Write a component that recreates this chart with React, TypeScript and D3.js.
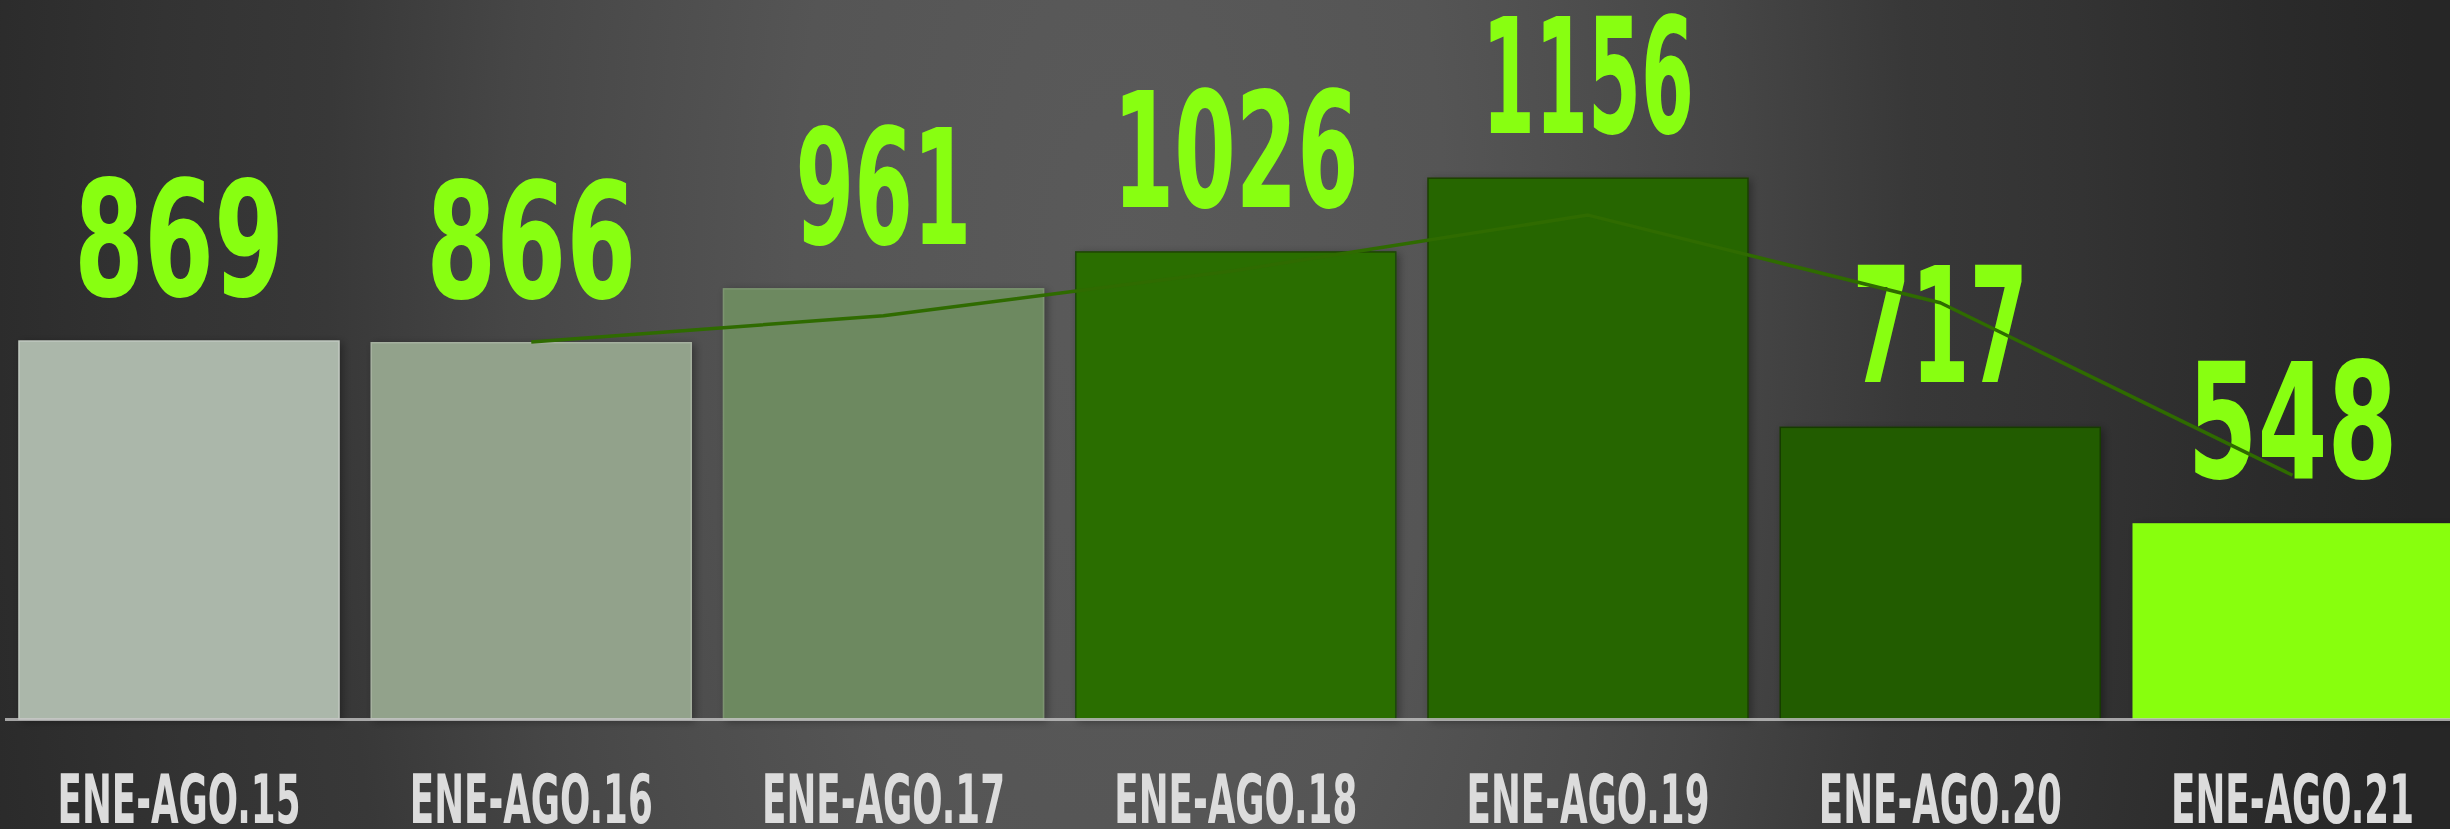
import React, { useLayoutEffect, useRef, useState } from 'react';
import * as d3 from 'd3';

const categories = ['ENE-AGO.15', 'ENE-AGO.16', 'ENE-AGO.17', 'ENE-AGO.18', 'ENE-AGO.19', 'ENE-AGO.20', 'ENE-AGO.21'];
const values = [869, 866, 961, 1026, 1156, 717, 548];
const barColors = ['#abb7aa', '#92a28b', '#6d8960', '#2c6e00', '#276600', '#225c00', '#88ff10'];
const barStrokes = ['#c2cac1', '#a6b19f', '#7c9470', '#1e4608', '#1b4006', '#193a05', 'none'];

const W = 2450;
const H = 829;
const BASE = 719;

// 2-period moving average trendline (as drawn by the spreadsheet)
const trend = values.map((v, i) => (i === 0 ? null : (values[i - 1] + v) / 2));

const charWidth = (s: string) => s.split('').reduce((acc, ch) => acc + (ch === '1' ? 36 : 70), 0);

const font = "'Liberation Sans Narrow', 'Arial Narrow', 'DejaVu Sans Condensed', sans-serif";

function FitText(props: { x: number; y: number; width: number; size: number; fill: string; children: string }) {
  const ref = useRef<SVGTextElement>(null);
  const [sx, setSx] = useState(1);
  useLayoutEffect(() => {
    if (ref.current) {
      const n = ref.current.getComputedTextLength();
      if (n > 0) setSx(props.width / n);
    }
  }, [props.width, props.children]);
  return (
    <text ref={ref} transform={`translate(${props.x},${props.y}) scale(${sx},1)`}
      textAnchor="middle" fontFamily={font} fontWeight="bold" fontSize={props.size}
      fill={props.fill}>{props.children}</text>
  );
}

export default function App() {
  const x = d3.scaleBand<string>().domain(categories).range([19, 2452.5]).paddingInner(0.0916).paddingOuter(0);
  const y = d3.scaleLinear().domain([203, 1470]).range([BASE, 0]);
  const bw = x.bandwidth();

  const pts: [number, number][] = [];
  trend.forEach((t, i) => {
    if (t !== null) pts.push([(x(categories[i]) as number) + bw / 2, y(t)]);
  });
  const linePath = d3.line()(pts) || '';

  return (
    <>
      <style>{`html,body{margin:0;padding:0;overflow:hidden;background:#2a2a2a}`}</style>
      <svg width={W} height={H} style={{ display: 'block' }}>
        <defs>
          <radialGradient id="bg" gradientUnits="userSpaceOnUse" cx={1120} cy={260} r={1300}
            gradientTransform="translate(1120 260) scale(1 2.2) translate(-1120 -260)">
            <stop offset="0" stopColor="#5a5a5a" />
            <stop offset="0.25" stopColor="#555555" />
            <stop offset="0.47" stopColor="#464646" />
            <stop offset="0.61" stopColor="#383838" />
            <stop offset="0.74" stopColor="#333333" />
            <stop offset="0.88" stopColor="#2b2b2b" />
            <stop offset="1" stopColor="#262626" />
          </radialGradient>
          <filter id="shadow" x="-10%" y="-10%" width="120%" height="120%">
            <feDropShadow dx="3" dy="2" stdDeviation="4" floodColor="#000" floodOpacity="0.35" />
          </filter>
        </defs>
        <rect x={0} y={0} width={W} height={H} fill="url(#bg)" />
        <g filter="url(#shadow)">
          {categories.map((c, i) => (
            <rect key={c} x={x(c)} y={y(values[i])} width={bw} height={BASE - y(values[i])}
              fill={barColors[i]} stroke={barStrokes[i]} strokeWidth={1.5} />
          ))}
        </g>
        <line x1={5} x2={W} y1={BASE + 0.5} y2={BASE + 0.5} stroke="#c4c4c4" strokeOpacity={0.8} strokeWidth={3} />
        {categories.map((c, i) => {
          const s = String(values[i]);
          return (
            <FitText key={'v' + c} x={(x(c) as number) + bw / 2} y={y(values[i]) - 45}
              width={charWidth(s)} size={160} fill="#88ff11">{s}</FitText>
          );
        })}
        <path d={linePath} fill="none" stroke="#2f6b00" strokeWidth={3.5} strokeLinejoin="round" />
        {categories.map((c) => (
          <FitText key={'c' + c} x={(x(c) as number) + bw / 2} y={823}
            width={243} size={68} fill="#dcdcdc">{c}</FitText>
        ))}
      </svg>
    </>
  );
}
